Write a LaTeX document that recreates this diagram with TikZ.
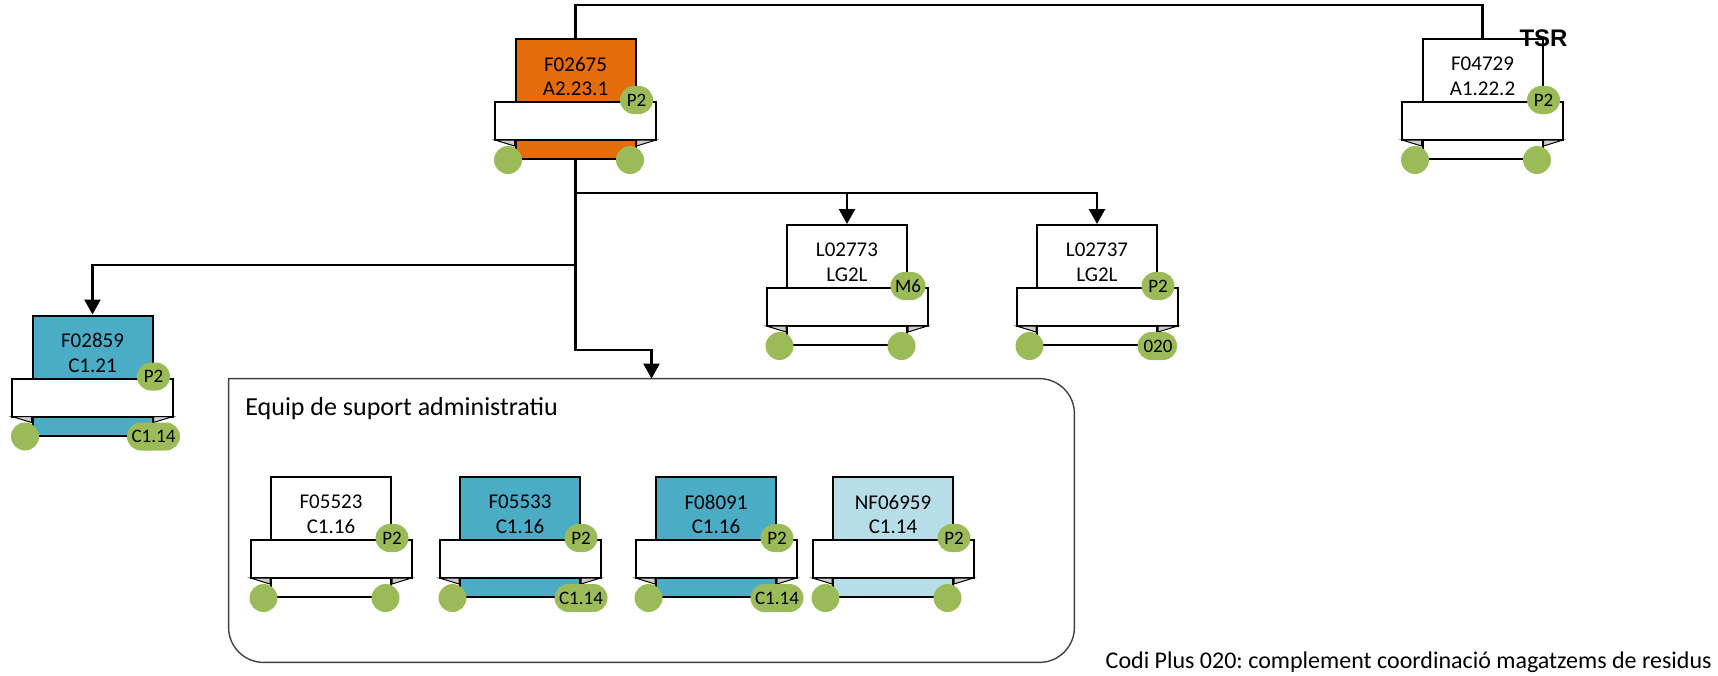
\documentclass[tikz,border=0pt]{standalone}
\usepackage{fontspec}
\setmainfont{Carlito}
\newfontfamily\tsrfont{Liberation Sans}
\usepackage{xcolor}
\usepackage{tikz}
\usetikzlibrary{arrows.meta,positioning,calc}
\frenchspacing

\definecolor{orangefill}{HTML}{E46C0A}
\definecolor{tealfill}{HTML}{4BACC6}
\definecolor{paleblue}{HTML}{B7DEE8}
\definecolor{badgegreen}{HTML}{9BBB59}
\definecolor{foldgray}{HTML}{D0CECE}

\begin{document}
\begin{tikzpicture}[
    x=0.5pt, y=-0.5pt,
    card/.style={rectangle, draw=black, line width=1pt, minimum width=60pt, minimum height=60pt, inner sep=0pt},
    cardtext/.style={align=center, inner sep=0pt, font=\fontsize{10.5}{12.3}\selectfont},
    band/.style={draw=black, line width=1pt, fill=white},
    fold/.style={draw=black, line width=0.5pt, fill=foldgray},
    wheel/.style={circle, fill=badgegreen, minimum size=14pt, inner sep=0pt},
    badge/.style={rectangle, rounded corners=7pt, fill=badgegreen, minimum height=14pt, minimum width=16.5pt, inner xsep=2.3pt, inner ysep=0pt, font=\fontsize{9.5}{9.5}\selectfont},
    link/.style={line width=1.2pt, draw=black},
    arrow/.style={link, -{Triangle[width=8pt, length=7.5pt]}},
    groupbox/.style={rectangle, minimum width=422.5pt, minimum height=141.5pt, inner sep=0pt},
    groupline/.style={draw=black!75, line width=0.7pt},
    grouptitle/.style={inner sep=0pt, font=\fontsize{13}{13}\selectfont},
    caption/.style={inner sep=0pt, font=\fontsize{12}{12}\selectfont},
    tsr/.style={inner sep=0pt, font=\tsrfont\bfseries\fontsize{12}{12}\selectfont}
]
    \useasboundingbox (0,0) rectangle (1718,675);

    % support team frame
    \node [groupbox] (group) at (651.5,520.5) {};
    \draw [groupline] (group.north west) -- ([xshift=-17.5pt]group.north east)
        arc [start angle=90, end angle=0, radius=17.5pt] -- ([yshift=17.5pt]group.south east)
        arc [start angle=0, end angle=-90, radius=17.5pt] -- ([xshift=17.5pt]group.south west)
        arc [start angle=270, end angle=180, radius=17.5pt] -- cycle;
    \node [grouptitle, anchor=base west] (group-title) at (245,415) {Equip de suport administratiu};

    % cards
    \foreach \cname/\cx/\cy/\cfill/\ltop/\lbot/\pin in {
        f02675/575.5/99/orangefill/F02675/A2.23.1/P2,
        f04729/1482.5/99/white/F04729/A1.22.2/P2,
        f02859/92.5/375.5/tealfill/F02859/C1.21/P2,
        l02773/847/285/white/L02773/LG2L/M6,
        l02737/1097/285/white/L02737/LG2L/P2,
        f05523/331/537/white/F05523/C1.16/P2,
        f05533/520/537/tealfill/F05533/C1.16/P2,
        f08091/716/537/tealfill/F08091/C1.16/P2,
        nf06959/893/537/paleblue/NF06959/C1.14/P2}
    {
        \node [card, fill=\cfill] (\cname) at (\cx,\cy) {};
        \node [cardtext] (\cname-text) at ([yshift=11.25pt]\cname.center) {\ltop\\\lbot};
        \draw [band] ([xshift=-9.75pt, yshift=-1.5pt]\cname.west) rectangle ([xshift=9.75pt, yshift=-20.5pt]\cname.east);
        \filldraw [fold] ([xshift=-9.75pt, yshift=-20.5pt]\cname.west) -- ([yshift=-20.5pt]\cname.west) -- ([yshift=-23.5pt]\cname.west) -- cycle;
        \filldraw [fold] ([xshift=9.75pt, yshift=-20.5pt]\cname.east) -- ([yshift=-20.5pt]\cname.east) -- ([yshift=-23.5pt]\cname.east) -- cycle;
        \node [wheel] (\cname-wl) at ([xshift=-3.25pt]\cname.south west) {};
        \node [wheel] (\cname-wr) at ([xshift=-3.25pt]\cname.south east) {};
        \node [badge] (\cname-pin) at ([yshift=-0.5pt]\cname.east) {\pin};
    }

    \node [badge] (f02859-plus) at (f02859.south east) {C1.14};
    \node [badge] (l02737-plus) at (l02737.south east) {020};
    \node [badge] (f05533-plus) at (f05533.south east) {C1.14};
    \node [badge] (f08091-plus) at (f08091.south east) {C1.14};

    \node [tsr] (tsr) at (f04729.north east) {TSR};

    % connectors
    \coordinate (top) at (0,5);
    \coordinate (split) at (0,193);
    \coordinate (branch) at (0,265);
    \coordinate (grouptap) at (0,350);

    \draw [link] (f02675.north) -- (f02675.north |- top) -| (f04729.north);
    \draw [arrow] (f02675.south) -- (f02675.south |- grouptap) -| (group.north);
    \draw [arrow] (f02675.south |- split) -| (l02773.north);
    \draw [arrow] (f02675.south |- split) -| (l02737.north);
    \draw [arrow] (f02675.south |- branch) -| (f02859.north);

    \node [caption, anchor=base east] (caption) at (1712,668) {Codi Plus 020: complement coordinació magatzems de residus};
\end{tikzpicture}
\end{document}
